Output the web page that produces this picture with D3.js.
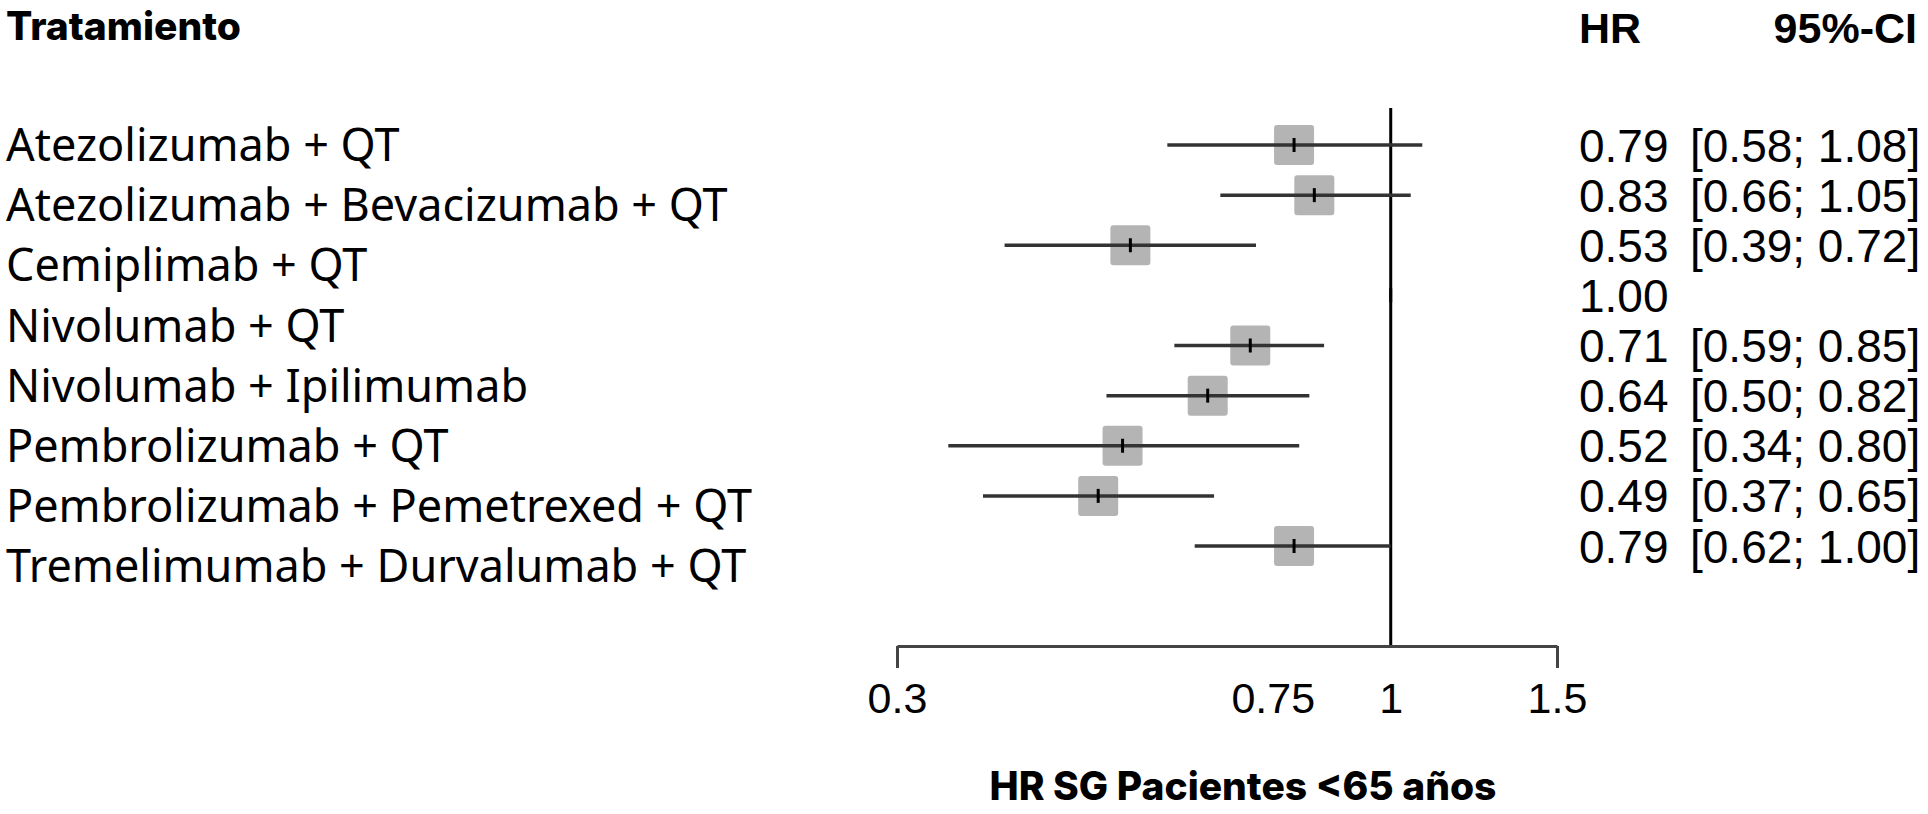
<!DOCTYPE html>
<html>
<head>
<meta charset="utf-8">
<script src="https://cdn.jsdelivr.net/npm/d3@7"></script>
<style>
  body { margin: 0; background: #fff; }
  svg { display: block; }
</style>
</head>
<body>
<svg id="chart" width="1928" height="814"></svg>
<script>
// treatment labels (drawn on their own grid, like in the original picture)
const labels = [
  "Atezolizumab + QT",
  "Atezolizumab + Bevacizumab + QT",
  "Cemiplimab + QT",
  "Nivolumab + QT",
  "Nivolumab + Ipilimumab",
  "Pembrolizumab + QT",
  "Pembrolizumab + Pemetrexed + QT",
  "Tremelimumab + Durvalumab + QT"
];

// hazard ratios and 95% CI
const hr = [0.79, 0.83, 0.53, 1.00, 0.71, 0.64, 0.52, 0.49, 0.79];
const lo = [0.58, 0.66, 0.39, null, 0.59, 0.50, 0.34, 0.37, 0.62];
const hi = [1.08, 1.05, 0.72, null, 0.85, 0.82, 0.80, 0.65, 1.00];

const tickValues = [0.3, 0.75, 1, 1.5];
const tickLabels = ["0.3", "0.75", "1", "1.5"];

const svg = d3.select("#chart");

const x = d3.scaleLog().domain([0.3, 1.5]).range([897, 1557]);
// rows of the forest plot
const y = d3.scaleLinear().domain([0, 8]).range([145, 546]);
// rows of the text labels
const yLab = d3.scaleLinear().domain([0, 7]).range([145, 566]);

const axisY = 646;

// headers
svg.append("text")
  .attr("x", 6).attr("y", 40)
  .style("font-family", "Inter").style("font-weight", 800).style("font-size", "39px")
  .text("Tratamiento");

svg.append("text")
  .attr("x", 1579).attr("y", 43)
  .style("font-family", "Liberation Sans").style("font-weight", 700).style("font-size", "43px")
  .text("HR");

svg.append("text")
  .attr("x", 1917).attr("y", 43).attr("text-anchor", "end")
  .style("font-family", "Liberation Sans").style("font-weight", 700).style("font-size", "43px")
  .text("95%-CI");

// labels
svg.append("g").selectAll("text")
  .data(labels)
  .join("text")
  .attr("x", 6)
  .attr("y", (d, i) => yLab(i))
  .attr("dy", "0.36em")
  .style("font-family", "Noto Sans").style("font-size", "45px").style("fill", "#000")
  .text(d => d);

// reference line at HR = 1
svg.append("line")
  .attr("x1", x(1)).attr("x2", x(1))
  .attr("y1", 108).attr("y2", axisY)
  .attr("stroke", "#000").attr("stroke-width", 3);

// x axis
const axis = d3.axisBottom(x)
  .tickValues(tickValues)
  .tickFormat((d, i) => tickLabels[i])
  .tickSize(22)
  .tickSizeOuter(0)
  .tickPadding(14);

const gAxis = svg.append("g")
  .attr("transform", `translate(0,${axisY})`)
  .call(axis);
gAxis.select(".domain").attr("stroke", "#444").attr("stroke-width", 3);
gAxis.selectAll(".tick line").attr("stroke", "#444").attr("stroke-width", 3)
  .style("display", (d) => (d === 0.3 || d === 1.5) ? null : "none");
gAxis.selectAll(".tick text")
  .style("font-family", "Liberation Sans").style("font-size", "43px").style("fill", "#000");

svg.append("text")
  .attr("x", 1243).attr("y", 800).attr("text-anchor", "middle")
  .style("font-family", "Inter").style("font-weight", 800).style("font-size", "39px")
  .text("HR SG Pacientes <65 años");

// forest rows
const rows = hr.map((d, i) => ({ hr: d, lo: lo[i], hi: hi[i], i: i }));
const sq = 40;

const gRows = svg.append("g");
gRows.selectAll("rect")
  .data(rows.filter(d => d.lo !== null))
  .join("rect")
  .attr("x", d => x(d.hr) - sq / 2)
  .attr("y", d => y(d.i) - sq / 2)
  .attr("width", sq).attr("height", sq)
  .attr("rx", 3)
  .attr("fill", "#b4b4b4");

gRows.selectAll("line.ci")
  .data(rows.filter(d => d.lo !== null))
  .join("line")
  .attr("class", "ci")
  .attr("x1", d => x(d.lo)).attr("x2", d => x(d.hi))
  .attr("y1", d => y(d.i)).attr("y2", d => y(d.i))
  .attr("stroke", "#333").attr("stroke-width", 3.5);

gRows.selectAll("line.est")
  .data(rows)
  .join("line")
  .attr("class", "est")
  .attr("x1", d => x(d.hr)).attr("x2", d => x(d.hr))
  .attr("y1", d => y(d.i) - 7).attr("y2", d => y(d.i) + 7)
  .attr("stroke", "#000").attr("stroke-width", 3);

// numbers column
const fmt = d3.format(".2f");
svg.append("g").selectAll("text")
  .data(rows)
  .join("text")
  .attr("x", 1579)
  .attr("y", d => y(d.i))
  .attr("dy", "0.36em")
  .style("font-family", "Liberation Sans").style("font-size", "46px")
  .text(d => fmt(d.hr));

svg.append("g").selectAll("text")
  .data(rows.filter(d => d.lo !== null))
  .join("text")
  .attr("x", 1690)
  .attr("y", d => y(d.i))
  .attr("dy", "0.36em")
  .style("font-family", "Liberation Sans").style("font-size", "46px")
  .text(d => `[${fmt(d.lo)}; ${fmt(d.hi)}]`);
</script>
</body>
</html>
